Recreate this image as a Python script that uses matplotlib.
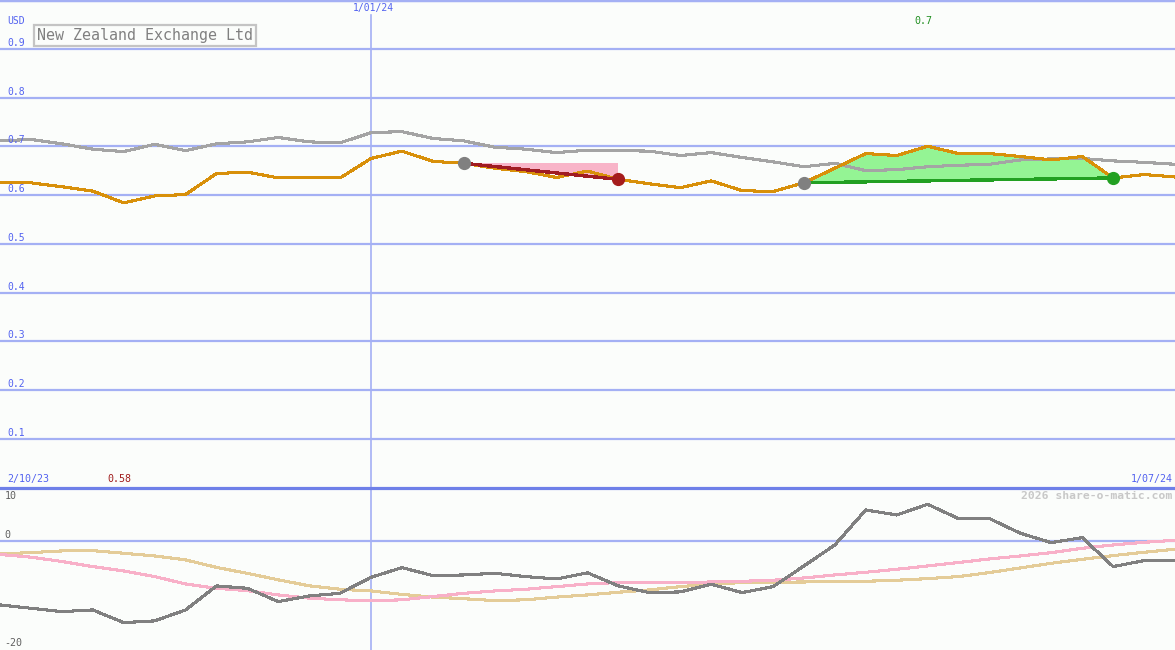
import numpy as np
import matplotlib
matplotlib.use("Agg")
import matplotlib.pyplot as plt
from matplotlib.transforms import blended_transform_factory

# ---------------- data ----------------
price = [0.626, 0.625, 0.617, 0.608, 0.584, 0.598, 0.601, 0.644, 0.647, 0.635,
         0.635, 0.635, 0.675, 0.690, 0.669, 0.665, 0.655, 0.648, 0.636, 0.649,
         0.632, 0.623, 0.615, 0.629, 0.609, 0.607, 0.625, 0.655, 0.685, 0.681,
         0.700, 0.685, 0.685, 0.679, 0.672, 0.679, 0.635, 0.642, 0.637]
compare = [0.711, 0.714, 0.705, 0.694, 0.689, 0.704, 0.691, 0.705, 0.709, 0.718,
           0.709, 0.707, 0.728, 0.730, 0.716, 0.711, 0.698, 0.694, 0.687, 0.692,
           0.691, 0.690, 0.681, 0.687, 0.677, 0.668, 0.658, 0.665, 0.650, 0.652,
           0.658, 0.661, 0.663, 0.672, 0.674, 0.675, 0.670, 0.667, 0.663]
osc = [-11.85, -12.47, -13.09, -12.78, -15.12, -14.81, -12.78, -8.33, -8.77, -11.23,
       -10.19, -9.69, -6.73, -4.94, -6.42, -6.30, -5.99, -6.60, -7.04, -5.90,
       -8.33, -9.57, -9.44, -8.02, -9.57, -8.46, -4.63, -0.74, 5.74, 4.81,
       6.79, 4.14, 4.14, 1.42, -0.31, 0.62, -4.75, -3.64, -3.64]
osc_fast = [-2.5, -3.0, -3.8, -4.75, -5.56, -6.6, -7.96, -8.77, -9.2, -10.0,
            -10.6, -10.9, -11.1, -10.9, -10.3, -9.7, -9.26, -8.95, -8.46, -7.96,
            -7.7, -7.7, -7.7, -7.6, -7.47, -7.28, -6.85, -6.3, -5.8, -5.25,
            -4.63, -4.0, -3.33, -2.78, -2.16, -1.36, -0.74, -0.25, 0.12]
osc_slow = [-2.4, -2.16, -1.85, -1.8, -2.28, -2.78, -3.5, -4.9, -6.0, -7.2,
            -8.3, -8.95, -9.26, -9.9, -10.4, -10.7, -11.05, -10.9, -10.4, -10.0,
            -9.5, -9.07, -8.46, -8.02, -7.7, -7.65, -7.6, -7.53, -7.47, -7.28,
            -6.98, -6.6, -5.86, -5.0, -4.14, -3.4, -2.71, -2.1, -1.54]
price_ticks = [0.1, 0.2, 0.3, 0.4, 0.5, 0.6, 0.7, 0.8, 0.9]
osc_labels = [10, 0, -20]
date_start, date_mid, date_end = "2/10/23", "1/01/24", "1/07/24"
mid_index = 12
loss_trade = (15, 20)
gain_trade = (26, 36)
title = "New Zealand Exchange Ltd"
watermark = "2026 share-o-matic.com"

# ---------------- styles ----------------
BG = "#fbfdfb"
GRID = "#a4b0f4"
SEP = "#6e80e8"
LBL = "#5262f0"
ORANGE = "#d8900a"
GRAY = "#a4a4a4"
MONO = "DejaVu Sans Mono"

x = np.arange(len(price))
N = len(price) - 1

fig = plt.figure(figsize=(11.75, 6.5), dpi=100, facecolor=BG)
H = 650.0
top_h = 487.5
ax1 = fig.add_axes([0, (H - top_h) / H, 1, top_h / H])
ax2 = fig.add_axes([0, 0, 1, (H - top_h) / H])
for ax in (ax1, ax2):
    ax.set_facecolor(BG)
    ax.set_xlim(0, N)
    ax.set_xticks([]); ax.set_yticks([])
    for s in ax.spines.values():
        s.set_visible(False)
ax1.set_ylim(0, 1.0)
ax2.set_ylim(-20.2, 9.9)

# grid lines
for t in price_ticks:
    ax1.axhline(t, color=GRID, lw=1.6, zorder=1)
ax1.axhline(1.0, color=GRID, lw=2.5, zorder=1)
ax2.axhline(9.9, color=SEP, lw=2.3, zorder=5, clip_on=False)
ax2.axhline(0, color=GRID, lw=1.6, zorder=1)
ax1.axvline(mid_index, ymax=1 - 15 / top_h, color=GRID, lw=1.2, zorder=1)
ax2.axvline(mid_index, color=GRID, lw=1.2, zorder=1)

# loss trade (pink)
a, b = loss_trade
ax1.fill([a, b, b], [price[a], price[a], price[b]], color="#f8b4c8", lw=0, zorder=2)
# gain trade (green)
c, d = gain_trade
xs = x[c:d + 1]
base = np.interp(xs, [c, d], [price[c], price[d]])
ax1.fill_between(xs, base, price[c:d + 1], color="#94f494", lw=0, zorder=2)

ax1.plot(x, compare, color=GRAY, lw=1.5, zorder=3, antialiased=False)
ax1.plot(x, price, color=ORANGE, lw=1.5, zorder=4, antialiased=False)
ax1.plot([a, b], [price[a], price[b]], color="#a01c22", lw=1.7, zorder=5, antialiased=False)
ax1.plot([c, d], [price[c], price[d]], color="#22a022", lw=1.7, zorder=5, antialiased=False)
ax1.plot([a], [price[a]], "o", color="#808080", ms=8.5, zorder=6)
ax1.plot([b], [price[b]], "o", color="#a51c1c", ms=8.5, zorder=6)
ax1.plot([c], [price[c]], "o", color="#808080", ms=8.5, zorder=6)
ax1.plot([d], [price[d]], "o", color="#22a022", ms=8.5, zorder=6)

# oscillator panel
ax2.plot(x, osc_slow, color="#e4cc98", lw=1.5, zorder=2, antialiased=False)
ax2.plot(x, osc_fast, color="#f8b0c8", lw=1.5, zorder=2, antialiased=False)
ax2.plot(x, osc, color="#808080", lw=1.5, zorder=3, antialiased=False)

# labels
ta1 = blended_transform_factory(ax1.transAxes, ax1.transData)
for t in price_ticks:
    ax1.text(0.006, t + 0.002, f"{t:g}", transform=ta1, ha="left", va="bottom",
             color=LBL, fontsize=7, family=MONO, zorder=7)
ax1.text(0.006, 0.947, "USD", transform=ax1.transAxes, ha="left", va="bottom",
         color=LBL, fontsize=7, family=MONO)
ax1.text(mid_index + 0.08, 0.973, date_mid, transform=blended_transform_factory(ax1.transData, ax1.transAxes),
         ha="center", va="bottom", color=LBL, fontsize=7, family=MONO)
ax1.text(0.006, 0.007, date_start, transform=ax1.transAxes, ha="left", va="bottom",
         color=LBL, fontsize=7.2, family=MONO)
ax1.text(0.998, 0.007, date_end, transform=ax1.transAxes, ha="right", va="bottom",
         color=LBL, fontsize=7.2, family=MONO)

imax = int(np.argmax(price)); imin = int(np.argmin(price))
tb = blended_transform_factory(ax1.transData, ax1.transAxes)
ax1.text(imax - 0.15, 0.946, f"{round(max(price), 2):g}", transform=tb, ha="center", va="bottom",
         color="#229022", fontsize=7.2, family=MONO)
ax1.text(imin - 0.15, 0.007, f"{round(min(price), 2):g}", transform=tb, ha="center", va="bottom",
         color="#a01c1c", fontsize=7.2, family=MONO)

ax1.text(0.0315, 0.911, title, transform=ax1.transAxes, ha="left", va="bottom",
         color="#808080", fontsize=10.8, family=MONO, zorder=8,
         bbox=dict(boxstyle="square,pad=0.2", fc=BG, ec="#c4c4c4", lw=1.6))

ta2 = blended_transform_factory(ax2.transAxes, ax2.transData)
ax2.text(0.004, 9.9 - 0.6, "10", transform=ta2, ha="left", va="top",
         color="#606060", fontsize=7.2, family=MONO)
ax2.text(0.004, 0.2, "0", transform=ta2, ha="left", va="bottom",
         color="#606060", fontsize=7.2, family=MONO)
ax2.text(0.004, -19.8, "-20", transform=ta2, ha="left", va="bottom",
         color="#606060", fontsize=7.2, family=MONO)
ax2.text(0.998, 9.9 - 0.6, watermark, transform=ta2, ha="right", va="top",
         color="#c8c8c8", fontsize=8.2, family=MONO, fontweight="bold")

fig.savefig("out.png", dpi=100, facecolor=BG)
